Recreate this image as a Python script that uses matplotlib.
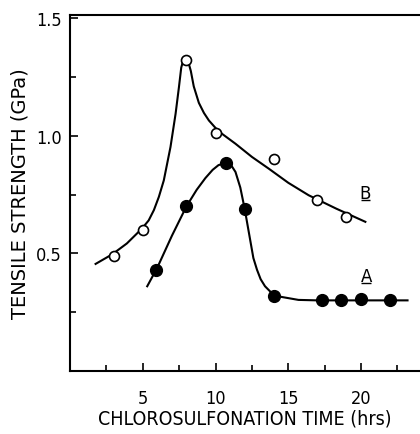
import matplotlib
matplotlib.use('Agg')
import matplotlib.pyplot as plt
from matplotlib.ticker import MultipleLocator
from matplotlib.transforms import offset_copy

plt.rcParams['font.family'] = ['DejaVu Sans']
plt.rcParams['font.stretch'] = 'condensed'

# measured points, curve B (open circles)
b_time = [3, 5, 8, 10, 14, 17, 19]
b_strength = [0.49, 0.60, 1.32, 1.01, 0.90, 0.725, 0.655]

# measured points, curve A (filled circles)
a_time = [5.9, 8, 10.7, 12, 14, 17.3, 18.6, 20, 22]
a_strength = [0.43, 0.70, 0.885, 0.69, 0.32, 0.30, 0.30, 0.305, 0.30]

# hand-drawn fit lines
b_fit_x = [1.75, 2.9, 3.9, 4.95, 5.4, 5.76, 6.1, 6.44, 6.9, 7.25, 7.48, 7.64, 7.8,
           7.95, 8.12, 8.3, 8.5, 8.85, 9.2, 9.54, 10.0, 10.45, 11.37, 12.5, 13.66,
           15, 16.4, 18.3, 20.3]
b_fit_y = [0.455, 0.496, 0.542, 0.606, 0.64, 0.684, 0.74, 0.81, 0.952, 1.093, 1.206,
           1.29, 1.325, 1.335, 1.315, 1.275, 1.21, 1.14, 1.097, 1.065, 1.033, 1.008,
           0.966, 0.91, 0.86, 0.80, 0.747, 0.69, 0.634]

a_fit_x = [5.3, 6, 7, 8, 8.7, 9.3, 9.8, 10.2, 10.7, 11.1, 11.37, 11.7, 12.0, 12.2,
           12.4, 12.6, 12.85, 13.1, 13.4, 13.8, 14.5, 15.7, 17, 20, 23.2]
a_fit_y = [0.36, 0.44, 0.575, 0.70, 0.77, 0.82, 0.855, 0.875, 0.885, 0.872, 0.846,
           0.78, 0.69, 0.62, 0.55, 0.48, 0.43, 0.39, 0.36, 0.335, 0.315, 0.302,
           0.30, 0.30, 0.30]

# curve labels (underlined in the original)
curve_labels = ['B', 'A']
label_x = [20.3, 20.35]
label_y = [0.758, 0.405]

fig = plt.figure(figsize=(4.2, 4.35), dpi=100)
ax = fig.add_axes([0.167, 0.145, 0.831, 0.818])

ax.plot(b_fit_x, b_fit_y, color='black', lw=1.5, zorder=2)
ax.plot(a_fit_x, a_fit_y, color='black', lw=1.5, zorder=2)
ax.plot(b_time, b_strength, 'o', ms=7.2, mfc='white', mec='black', mew=1.2,
        ls='none', zorder=3)
ax.plot(a_time, a_strength, 'o', ms=8.5, mfc='black', mec='black',
        ls='none', zorder=3)

# letter plus a short rule just below it
under = offset_copy(ax.transData, fig=fig, x=0, y=-5.5, units='points')
for lab, lx, ly in zip(curve_labels, label_x, label_y):
    ax.text(lx, ly, lab, fontsize=12, fontstretch='normal', ha='center', va='center')
    ax.plot([lx - 0.33, lx + 0.33], [ly, ly], color='black', lw=1.0,
            transform=under, solid_capstyle='butt')

ax.set_xlim(0, 24)
ax.set_ylim(0, 1.513)
ax.xaxis.set_major_locator(MultipleLocator(5))
ax.xaxis.set_minor_locator(MultipleLocator(2.5))
ax.yaxis.set_major_locator(MultipleLocator(0.5))
ax.yaxis.set_minor_locator(MultipleLocator(0.25))
ax.set_xticks([5, 10, 15, 20])
ax.set_yticks([0.5, 1.0, 1.5])
ax.set_yticklabels(['0.5', '1.0', '1.5'])

ax.tick_params(which='both', direction='in', width=1.2, labelsize=13)
ax.tick_params(which='major', length=6)
ax.tick_params(which='minor', length=4.5)
ax.tick_params(axis='x', pad=13)
ax.tick_params(axis='y', pad=6)

ax.spines['right'].set_visible(False)
for s in ['left', 'top', 'bottom']:
    ax.spines[s].set_linewidth(1.5)

ax.set_xlabel('CHLOROSULFONATION TIME (hrs)', fontsize=14, labelpad=1)
ax.set_ylabel('TENSILE STRENGTH (GPa)', fontsize=14, fontstretch='normal', labelpad=5)

fig.savefig('out.png', dpi=100)
